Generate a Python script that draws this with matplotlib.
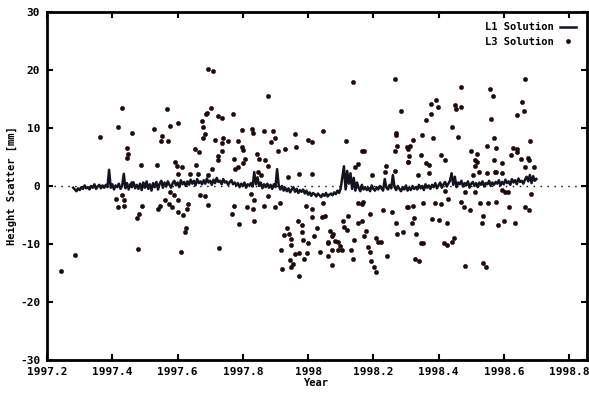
import numpy as np
import matplotlib
matplotlib.use("Agg")
import matplotlib.pyplot as plt

# ---------------- data ----------------
# L1 solution: regular sampling grid (years) + height scatter values (mm)
l1_start = 1997.28
l1_step = 0.005
l1_height = [
    -0.3, -0.6, -0.9, -0.4, -0.7, -0.2, -0.5, 0.1, -0.4, -0.2,
    -0.6, 0.0, -0.3, 0.3, -0.5, -0.1, 0.2, -0.4, 0.1, -0.3,
    0.2, -0.2, 2.8, -0.3, 0.3, -0.6, 0.1, -0.2, 0.4, -0.5,
    0.0, 2.1, -0.4, 0.5, -0.6, 0.3, -0.2, 0.6, -0.4, 0.2,
    -0.5, 0.4, -0.7, 0.6, -0.3, 0.8, -0.5, 0.3, -0.8, 0.5,
    -0.2, 0.7, -0.6, 0.4, 0.9, -0.3, 0.6, -0.1, 0.8, 0.2,
    -0.3, 0.5, 0.9, 0.1, 0.6, -0.2, 1.0, 0.3, 0.7, 0.0,
    0.8, 0.2, 1.1, 0.4, 0.9, 0.1, 1.2, 0.5, 0.8, 0.3,
    1.0, 0.4, 1.3, 0.6, 0.9, 0.2, 1.1, 0.5, 1.4, 0.7,
    0.9, 0.3, 1.2, 0.6, 0.8, 0.2, 0.7, 1.0, 0.3, 0.6,
    0.1, 0.5, -0.2, 0.4, 0.0, 0.6, -0.3, 0.3, 0.1, 0.5,
    -0.1, 2.4, 0.3, 1.5, 0.0, 0.6, -0.4, 0.3, -0.2, 0.4,
    -0.3, 0.2, -0.5, 0.3, -0.2, 2.9, 0.1, -0.6, 0.0, -0.8,
    -0.3, -0.9, -0.4, -1.1, -0.6, -0.2, -1.0, -0.5, -1.2, -0.7,
    -1.0, -0.6, -1.3, -0.8, -1.5, -1.1, -1.7, -1.2, -1.4, -1.8,
    -1.3, -1.6, -1.9, -1.4, -1.7, -1.2, -1.8, -1.5, -1.3, -1.6,
    -1.1, -1.4, -0.8, -1.2, -0.4, 1.5, 3.4, -0.6, 2.6, 0.4,
    2.2, -0.5, 1.4, -0.8, 0.6, -0.3, -0.9, 0.2, -0.6, -0.2,
    -0.7, -0.3, -0.9, 0.1, -0.5, -0.8, -0.2, -0.6, 0.0, -0.4,
    -0.8, 1.2, -0.3, -0.6, 0.2, -0.4, 1.9, -0.2, -0.7, 0.0,
    -0.5, -0.9, -0.2, -0.6, 0.1, -0.8, -0.3, -0.7, 0.0, -0.5,
    -0.2, -0.6, 0.2, -0.4, 0.0, -0.7, 0.3, -0.3, 0.1, -0.5,
    0.2, -0.2, 0.5, -0.4, 0.1, 0.6, -0.3, 0.3, 0.7, -0.1,
    0.4, 0.9, 2.2, 0.2, 1.6, -0.2, 0.6, 0.3, 0.9, -0.1,
    0.5, 0.1, 0.8, -0.3, 0.4, 0.7, 0.0, 0.5, -0.2, 0.6,
    0.2, 0.8, -0.1, 0.5, 0.3, 0.9, 0.0, 0.6, 0.2, 0.7,
    0.4, 1.0, 0.1, 0.7, 0.3, 1.1, 0.5, 0.8, 0.2, 1.2,
    0.6, 1.0, 0.3, 1.3, 0.7, 0.9, 0.4, 1.1, 1.6, 0.8,
    1.9, 0.5, 1.7, 0.9, 1.2,
]

# L3 solution: individual points (year, mm)
l3_year = [
    1997.429, 1997.416, 1997.461, 1997.362, 1997.444, 1997.449, 1997.444,
    1997.410, 1997.431, 1997.435, 1997.416, 1997.435, 1997.286, 1997.243, 1997.461,
    1997.692, 1997.709, 1997.566, 1997.702, 1997.689, 1997.686, 1997.725, 1997.737,
    1997.600, 1997.577, 1997.674, 1997.529, 1997.679, 1997.684, 1997.679, 1997.551,
    1997.549, 1997.572, 1997.715, 1997.740, 1997.737, 1997.755, 1997.653, 1997.667,
    1997.735, 1997.725, 1997.723, 1997.488, 1997.536, 1997.592, 1997.597, 1997.612,
    1997.656, 1997.706, 1997.638, 1997.663, 1997.692, 1997.600,
    1997.577, 1997.590, 1997.561, 1997.574, 1997.582, 1997.546, 1997.539, 1997.490,
    1997.482, 1997.475, 1997.602, 1997.602, 1997.618, 1997.631, 1997.628, 1997.669,
    1997.684, 1997.694, 1997.626, 1997.623, 1997.480, 1997.610, 1997.727,
    1997.878, 1997.771, 1997.796, 1997.827, 1997.832, 1997.866, 1997.893, 1997.960,
    1997.786, 1997.898, 1997.886, 1998.000, 1998.011, 1997.796, 1997.801, 1997.907,
    1997.929, 1997.963, 1997.842, 1997.850, 1997.868, 1997.806, 1997.801, 1997.774,
    1997.786, 1997.776, 1997.878, 1997.847, 1997.856, 1997.937, 1997.972, 1998.011,
    1997.825, 1997.878, 1997.774, 1997.768, 1997.812, 1997.835, 1997.832, 1997.866,
    1997.900, 1997.914, 1997.788, 1997.835, 1997.995, 1998.013, 1998.013, 1997.968,
    1997.982, 1997.934, 1997.927, 1997.941, 1997.980, 1998.019, 1997.949,
    1997.985, 1998.000, 1997.917, 1997.960, 1997.972, 1997.998, 1997.947, 1997.944,
    1997.955, 1997.988, 1997.921, 1997.949, 1997.972,
    1998.138, 1998.266, 1998.286, 1998.046, 1998.115, 1998.271, 1998.271, 1998.274,
    1998.266, 1998.302, 1998.164, 1998.172, 1998.305, 1998.152, 1998.143, 1998.240,
    1998.235, 1998.195, 1998.266, 1998.154, 1998.169, 1998.164, 1998.189, 1998.230,
    1998.256, 1998.302, 1998.046, 1998.043, 1998.052, 1998.123, 1998.026, 1998.067,
    1998.077, 1998.072, 1998.111, 1998.118, 1998.108, 1998.154, 1998.164, 1998.179,
    1998.172, 1998.062, 1998.060, 1998.082, 1998.092, 1998.097, 1998.141,
    1998.208, 1998.215, 1998.225, 1998.271, 1998.274, 1998.291, 1998.184, 1998.189,
    1998.036, 1998.072, 1998.092, 1998.103, 1998.133, 1998.062, 1998.243, 1998.138,
    1998.072, 1998.194, 1998.203, 1998.207,
    1998.468, 1998.557, 1998.567, 1998.391, 1998.376, 1998.399, 1998.450, 1998.455,
    1998.470, 1998.376, 1998.363, 1998.560, 1998.440, 1998.350, 1998.383, 1998.322,
    1998.460, 1998.312, 1998.305, 1998.570, 1998.550, 1998.577, 1998.501, 1998.519,
    1998.309, 1998.346, 1998.409, 1998.511, 1998.519, 1998.305, 1998.363, 1998.370,
    1998.421, 1998.570, 1998.511, 1998.523, 1998.337, 1998.370, 1998.506, 1998.550,
    1998.572, 1998.419, 1998.482, 1998.511, 1998.429, 1998.389, 1998.407, 1998.305,
    1998.322, 1998.353, 1998.470, 1998.478, 1998.496, 1998.526, 1998.552, 1998.577,
    1998.537, 1998.325, 1998.319, 1998.380, 1998.401, 1998.427, 1998.534, 1998.582,
    1998.332, 1998.448, 1998.442, 1998.346, 1998.353, 1998.417, 1998.427, 1998.329,
    1998.340, 1998.482, 1998.537, 1998.544,
    1998.666, 1998.656, 1998.662, 1998.642, 1998.679, 1998.628, 1998.639, 1998.642,
    1998.621, 1998.652, 1998.674, 1998.676, 1998.595, 1998.666, 1998.693, 1998.577,
    1998.593, 1998.593, 1998.603, 1998.613, 1998.683, 1998.615, 1998.666,
    1998.676, 1998.601, 1998.633,
]
l3_height = [
    13.5, 10.2, 9.1, 8.4, 6.5, 5.6, 4.8,
    -2.3, -1.6, -2.4, -3.6, -3.4, -11.9, -14.7, 0.6,
    20.1, 19.8, 13.2, 13.5, 12.6, 12.4, 12.1, 11.7,
    10.9, 10.4, 11.2, 9.8, 10.2, 9.0, 8.2, 8.6,
    7.8, 7.8, 7.9, 8.3, 7.4, 7.8, 6.3, 5.9,
    6.0, 5.2, 4.5, 3.6, 3.6, 4.2, 3.4, 3.2,
    3.6, 2.9, 2.1, 2.1, 1.9, 2.1,
    -1.1, -1.6, -2.4, -3.1, -3.6, -3.4, -3.9, -3.4,
    -4.8, -5.6, -2.4, -4.4, -5.0, -3.1, -3.9, -1.6,
    -1.7, -3.3, -7.3, -7.9, -10.9, -11.4, -10.7,
    15.6, 12.5, 9.7, 9.9, 9.1, 9.5, 9.4, 9.0,
    7.8, 8.2, 7.6, 7.9, 7.6, 6.7, 6.2, 6.1,
    6.3, 6.7, 5.5, 4.6, 4.5, 4.6, 4.0, 4.6,
    3.2, 2.9, 3.4, 2.5, 1.9, 1.6, 2.1, 2.1,
    -1.3, -1.7, -3.4, -4.8, -3.7, -2.4, -4.0, -3.4,
    -3.6, -2.9, -6.6, -6.0, -3.4, -4.0, -5.3, -6.0,
    -6.8, -7.3, -8.4, -8.2, -8.0, -8.7, -9.2,
    -9.3, -9.8, -11.1, -11.7, -11.5, -11.5, -10.2, -12.8,
    -13.4, -12.6, -14.3, -14.0, -15.5,
    18.0, 18.4, 13.0, 9.4, 7.8, 9.2, 8.8, 6.9,
    6.1, 6.7, 6.1, 6.1, 4.2, 3.8, 3.2, 3.4,
    2.5, 1.9, 2.6, -3.0, -2.7, -3.1, -4.8, -4.1,
    -4.5, -3.6, -2.9, -5.3, -5.2, -5.1, -7.3, -7.7,
    -8.2, -8.7, -7.0, -7.5, -6.0, -6.4, -6.1, -7.7,
    -8.7, -9.9, -9.6, -9.5, -9.6, -10.3, -9.3,
    -9.0, -9.6, -9.6, -6.4, -8.2, -7.9, -10.5, -11.3,
    -11.3, -11.0, -11.0, -11.0, -11.1, -12.1, -12.1, -12.5,
    -13.7, -13.0, -14.0, -14.9,
    17.1, 16.8, 15.5, 14.8, 14.1, 13.6, 14.0, 13.2,
    13.6, 12.5, 11.4, 11.6, 10.1, 8.8, 8.2, 7.9,
    8.5, 6.9, 6.3, 8.3, 6.9, 6.5, 6.1, 5.6,
    5.2, 5.3, 5.3, 4.5, 4.2, 4.2, 3.9, 3.6,
    4.4, 4.4, 3.4, 2.5, 1.9, 2.2, 1.9, 2.2,
    2.5, -0.8, -1.0, -1.1, -2.3, -2.9, -3.1, -3.6,
    -3.4, -3.0, -2.7, -3.6, -4.1, -2.9, -3.0, -2.7,
    -5.2, -5.6, -6.3, -5.7, -5.9, -6.4, -6.4, -6.7,
    -8.3, -9.0, -9.6, -9.9, -9.8, -9.9, -10.2, -12.5,
    -13.0, -13.8, -13.3, -14.0,
    18.4, 14.4, 13.0, 12.2, 7.8, 6.5, 6.3, 5.9,
    5.3, 4.6, 4.9, 4.4, 3.9, 3.3, 3.3, 2.5,
    2.2, -0.7, -1.1, -1.0, -1.3, -3.6, -3.6,
    -4.1, -6.1, -6.3,
]

x_ticks = [1997.2, 1997.4, 1997.6, 1997.8, 1998.0, 1998.2, 1998.4, 1998.6, 1998.8]
x_tick_labels = ["1997.2", "1997.4", "1997.6", "1997.8", "1998",
                 "1998.2", "1998.4", "1998.6", "1998.8"]
y_ticks = [-30, -20, -10, 0, 10, 20, 30]
y_tick_labels = ["-30", "-20", "-10", "0", "10", "20", "30"]

# ---------------- plot ----------------
l1_year = l1_start + l1_step * np.arange(len(l1_height))

plt.rcParams["font.family"] = ["DejaVu Sans Mono", "DejaVu Sans"]
plt.rcParams["font.weight"] = "bold"

fig = plt.figure(figsize=(5.89, 4.0), dpi=100)
ax = fig.add_axes([0.080, 0.100, 0.916, 0.870])

ax.axhline(0, color="black", lw=1.0, ls=(0, (1, 4)), zorder=1)
ax.plot(l1_year, l1_height, color="#141420", lw=1.8, zorder=3,
        label="L1 Solution")
ax.plot(l3_year, l3_height, ls="none", marker="o", ms=3.0,
        color="#1c0c0c", mec="#2a0808", mew=0.4, zorder=2,
        label="L3 Solution")

ax.set_xlim(1997.2, 1998.854)
ax.set_ylim(-30, 30)
ax.set_xticks(x_ticks)
ax.set_xticklabels(x_tick_labels)
ax.set_yticks(y_ticks)
ax.set_yticklabels(y_tick_labels)
ax.tick_params(direction="in", length=4, width=1.5, top=True, right=True,
               labelsize=8, pad=5)
for s in ax.spines.values():
    s.set_linewidth(2.0)

ax.set_xlabel("Year", fontsize=7.5, fontweight="bold", labelpad=1)
ax.set_ylabel("Height Scatter [mm]", fontsize=7.5, fontweight="bold",
              labelpad=2)

leg = ax.legend(loc="upper right", markerfirst=False, frameon=False,
                fontsize=7.5, handlelength=1.6, handletextpad=0.6,
                borderaxespad=0.6, labelspacing=0.4, numpoints=1)

fig.savefig("out.png", dpi=100)
